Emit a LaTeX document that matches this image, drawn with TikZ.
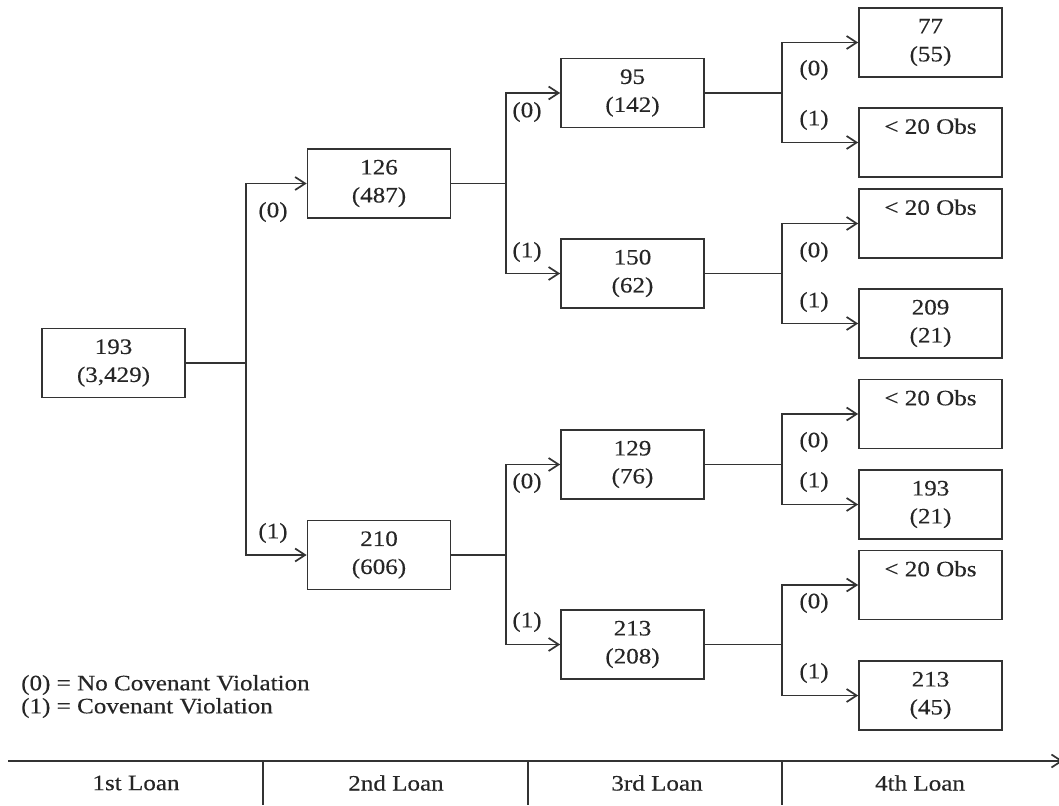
\documentclass[tikz,border=0pt]{standalone}
\usepackage{fontspec}
\setmainfont{Liberation Serif}[FakeStretch=1.14,FakeBold=0.35]
\usetikzlibrary{arrows.meta}
\begin{document}
\begin{tikzpicture}[x=1pt,y=-1pt,
  box/.style={draw=black!80, line width=1.7pt, minimum width=143pt, minimum height=69pt, inner sep=0pt, align=center, font=\fontsize{22}{28}\selectfont, text=black!85},
  lbl/.style={font=\fontsize{22}{28}\selectfont, text=black!85, inner sep=0pt},
  conn/.style={draw=black!80, line width=1.7pt},
  arr/.style={conn, -{Straight Barb[length=10pt,width=13pt,line width=1.7pt]}}
]
\useasboundingbox (0,0) rectangle (1059,805);

% boxes
\node[box] (root) at (113.5,363) {193\\(3,429)};
\node[box] (n126) at (379,183.5) {126\\(487)};
\node[box] (n210) at (379,555) {210\\(606)};
\node[box] (n95)  at (632.5,93) {95\\(142)};
\node[box] (n150) at (632.5,273.5) {150\\(62)};
\node[box] (n129) at (632.5,464.5) {129\\(76)};
\node[box] (n213) at (632.5,644.5) {213\\(208)};
\node[box] (l77)  at (930.5,42.5) {77\\(55)};
\node[box] (l1)   at (930.5,142.5) {< 20 Obs\\\phantom{(0)}};
\node[box] (l2)   at (930.5,223.5) {< 20 Obs\\\phantom{(0)}};
\node[box] (l209) at (930.5,323.5) {209\\(21)};
\node[box] (l3)   at (930.5,414) {< 20 Obs\\\phantom{(0)}};
\node[box] (l193) at (930.5,504.5) {193\\(21)};
\node[box] (l4)   at (930.5,585) {< 20 Obs\\\phantom{(0)}};
\node[box] (l213) at (930.5,695.5) {213\\(45)};

% junctions
\coordinate (j0) at (246,363);
\coordinate (j1) at (506,183.5);
\coordinate (j2) at (506,555);
\coordinate (j3) at (782,93);
\coordinate (j4) at (782,273.5);
\coordinate (j5) at (782,464.5);
\coordinate (j6) at (782,644.5);

% connectors
\draw[conn] (root.east) -- (j0);
\draw[arr] (j0) |- (n126.west);
\draw[arr] (j0) |- (n210.west);
\draw[conn] (n126.east) -- (j1);
\draw[arr] (j1) |- (n95.west);
\draw[arr] (j1) |- (n150.west);
\draw[conn] (n210.east) -- (j2);
\draw[arr] (j2) |- (n129.west);
\draw[arr] (j2) |- (n213.west);
\draw[conn] (n95.east) -- (j3);
\draw[arr] (j3) |- (l77.west);
\draw[arr] (j3) |- (l1.west);
\draw[conn] (n150.east) -- (j4);
\draw[arr] (j4) |- (l2.west);
\draw[arr] (j4) |- (l209.west);
\draw[conn] (n129.east) -- (j5);
\draw[arr] (j5) |- (l3.west);
\draw[arr] (j5) |- (l193.west);
\draw[conn] (n213.east) -- (j6);
\draw[arr] (j6) |- (l4.west);
\draw[arr] (j6) |- (l213.west);

% branch labels
\node[lbl] (b1) at (273,212) {(0)};
\node[lbl] (b2) at (273,533) {(1)};
\node[lbl] (b3) at (527,112) {(0)};
\node[lbl] (b4) at (527,252) {(1)};
\node[lbl] (b5) at (527,483) {(0)};
\node[lbl] (b6) at (527,622) {(1)};
\node[lbl] (b7) at (814,70) {(0)};
\node[lbl] (b8) at (814,120) {(1)};
\node[lbl] (b9) at (814,252) {(0)};
\node[lbl] (b10) at (814,302) {(1)};
\node[lbl] (b11) at (814,442) {(0)};
\node[lbl] (b12) at (814,482) {(1)};
\node[lbl] (b13) at (814,603) {(0)};
\node[lbl] (b14) at (814,673) {(1)};

% legend
\node[lbl, anchor=west] (leg0) at (21,685) {(0) = No Covenant Violation};
\node[lbl, anchor=west] (leg1) at (21,708) {(1) = Covenant Violation};

% timeline
\coordinate (t0) at (8,761);
\coordinate (t1) at (1063,761);
\draw[draw=black!80, line width=2.2pt, -{Straight Barb[length=10pt,width=13pt,line width=1.7pt]}] (t0) -- (t1);
\coordinate (d1a) at (263,761); \coordinate (d1b) at (263,805);
\coordinate (d2a) at (528,761); \coordinate (d2b) at (528,805);
\coordinate (d3a) at (782,761); \coordinate (d3b) at (782,805);
\draw[conn] (d1a) -- (d1b);
\draw[conn] (d2a) -- (d2b);
\draw[conn] (d3a) -- (d3b);
\node[lbl] (loan1) at (136,783) {1st Loan};
\node[lbl] (loan2) at (396,783) {2nd Loan};
\node[lbl] (loan3) at (657,783) {3rd Loan};
\node[lbl] (loan4) at (920,783) {4th Loan};
\end{tikzpicture}
\end{document}
